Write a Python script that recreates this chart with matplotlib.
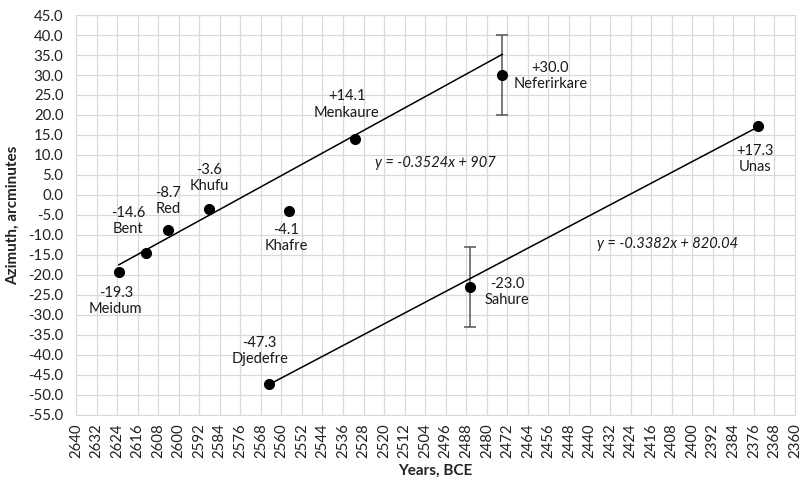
#!/usr/bin/env python3
import numpy as np
import matplotlib
matplotlib.use('Agg')
import matplotlib.pyplot as plt

plt.rcParams['font.family'] = ['Lato', 'DejaVu Sans']

# pyramid data: year BCE, azimuth (arcminutes)
names = ['Meidum', 'Bent', 'Red', 'Khufu', 'Khafre', 'Menkaure', 'Neferirkare',
         'Djedefre', 'Sahure', 'Unas']
years = [2623.3, 2612.7, 2604.2, 2588.2, 2557.0, 2531.4, 2474.0,
         2565.0, 2486.6, 2374.4]
azimuth = [-19.3, -14.6, -8.7, -3.6, -4.1, 14.1, 30.0,
           -47.3, -23.0, 17.3]
errors = [0, 0, 0, 0, 0, 0, 10.0, 0, 10.0, 0]
value_labels = ['-19.3', '-14.6', '-8.7', '-3.6', '-4.1', '+14.1', '+30.0',
                '-47.3', '-23.0', '+17.3']

# trend lines (as given in the chart)
trend1 = (-0.3524, 907.0)
trend2 = (-0.3382, 820.04)
group1 = [0, 1, 2, 3, 4, 5, 6]
group2 = [7, 8, 9]

# label offsets in pixels relative to each point
offsets = [(-3, -29), (-18, 32), (0, 29), (0, 31), (-3, -27), (-8, 34),
           (48, -1), (-9, 33), (37, -5), (-3, -33)]

fig = plt.figure(figsize=(8.04, 4.84), dpi=100)
ax = fig.add_axes([0.0945, 0.1426, 0.8943, 0.8264])

# trend lines
for (m, b), grp in [(trend1, group1), (trend2, group2)]:
    xs = np.array([years[i] for i in grp])
    xx = np.array([xs.max(), xs.min()])
    ax.plot(xx, m * xx + b, color='black', lw=1.1, zorder=3)

# error bars
for x, y, e in zip(years, azimuth, errors):
    if e > 0:
        ax.errorbar(x, y, yerr=e, fmt='none', ecolor='#555555', elinewidth=1.1,
                    capsize=4, capthick=1.1, zorder=2)

ax.plot(years, azimuth, 'o', color='black', markersize=7, zorder=4)

for n, x, y, v, (dx, dy) in zip(names, years, azimuth, value_labels, offsets):
    ax.annotate(v + '\n' + n, (x, y), xytext=(dx, dy), textcoords='offset pixels',
                ha='center', va='center', fontsize=10.5, color='#1a1a1a',
                linespacing=1.2)

ax.text(2500, 8.0, 'y = -0.3524x + 907', fontsize=10.5, style='italic', ha='center',
        va='center', color='#1a1a1a')
ax.text(2409.5, -12.3, 'y = -0.3382x + 820.04', fontsize=10.5, style='italic',
        ha='center', va='center', color='#1a1a1a')

ax.set_xlim(2640, 2360)
ax.set_ylim(-55, 45)
ax.set_xticks(np.arange(2640, 2359, -8))
ax.set_yticks(np.arange(-55, 46, 5))
ax.set_yticklabels([f'{v:.1f}' for v in np.arange(-55, 46, 5)])
ax.tick_params(axis='x', labelrotation=90, pad=6)
ax.tick_params(axis='y', pad=9)
ax.tick_params(length=0, labelsize=10.8, labelcolor='#222222')
ax.grid(True, color='#d9d9d9', lw=0.9)
ax.set_axisbelow(True)
for s in ax.spines.values():
    s.set_color('#d9d9d9')

ax.set_xlabel('Years, BCE', fontsize=11, fontweight='bold', color='#222222',
              labelpad=4)
ax.set_ylabel('Azimuth, arcminutes', fontsize=11, fontweight='bold', color='#222222',
              labelpad=6)

plt.savefig('out.png', dpi=100)
